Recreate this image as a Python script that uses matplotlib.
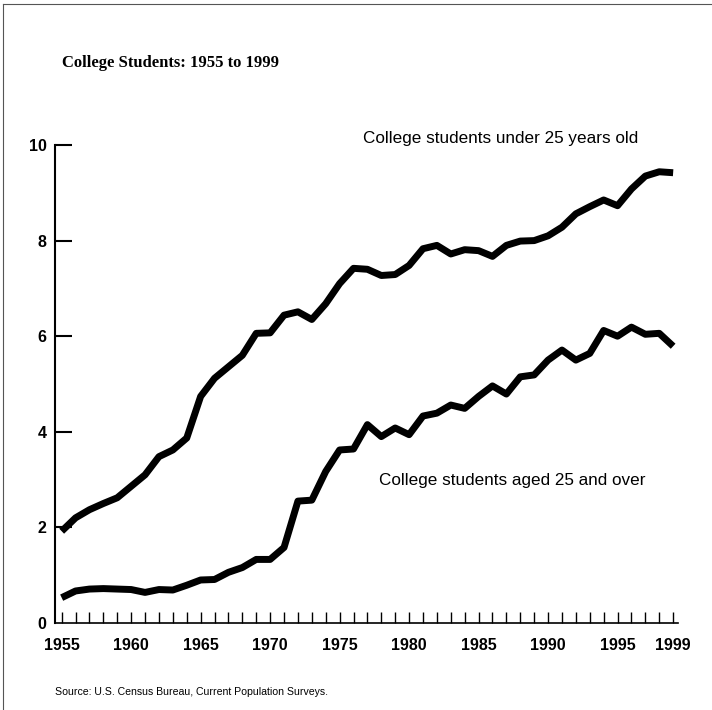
import matplotlib
matplotlib.use("Agg")
import matplotlib.pyplot as plt
from matplotlib.lines import Line2D

years = list(range(1955, 2000))
under_25 = [1.92, 2.20, 2.37, 2.50, 2.62, 2.86, 3.10, 3.48, 3.62, 3.87,
            4.74, 5.12, 5.36, 5.60, 6.06, 6.07, 6.44, 6.51, 6.35, 6.68,
            7.10, 7.42, 7.40, 7.27, 7.29, 7.48, 7.83, 7.90, 7.72, 7.81,
            7.79, 7.67, 7.90, 7.99, 8.00, 8.10, 8.28, 8.56, 8.71, 8.85,
            8.73, 9.08, 9.35, 9.44, 9.42]
aged_25_over = [0.53, 0.67, 0.71, 0.72, 0.71, 0.70, 0.64, 0.70, 0.69, 0.79,
                0.90, 0.91, 1.06, 1.16, 1.33, 1.33, 1.58, 2.55, 2.57, 3.17,
                3.62, 3.64, 4.15, 3.90, 4.08, 3.94, 4.33, 4.39, 4.56, 4.49,
                4.74, 4.96, 4.79, 5.15, 5.19, 5.50, 5.71, 5.50, 5.64, 6.12,
                6.00, 6.19, 6.04, 6.06, 5.79]
labeled_years = [1955, 1960, 1965, 1970, 1975, 1980, 1985, 1990, 1995, 1999]
y_ticks = [2, 4, 6, 8, 10]

W, H = 712, 710
fig = plt.figure(figsize=(W / 100, H / 100), dpi=100)
fig.patch.set_facecolor("white")

sans = ["Liberation Sans", "DejaVu Sans"]
serif = ["Liberation Serif", "DejaVu Serif"]

ax = fig.add_axes([55 / W, 1 - 623 / H, (678 - 55) / W, (623 - 145) / H])
ax.plot(years, under_25, color="black", lw=5, solid_joinstyle="round",
        solid_capstyle="butt")
ax.plot(years, aged_25_over, color="black", lw=5, solid_joinstyle="round",
        solid_capstyle="butt")

ax.set_xlim(1954.52, 1999.35)
ax.set_ylim(0, 10)
for s in ["top", "right"]:
    ax.spines[s].set_visible(False)
ax.spines["left"].set_linewidth(1.5)
ax.spines["bottom"].set_linewidth(1.2)

ax.set_xticks(years)
ax.set_xticklabels([str(y) if y in labeled_years else "" for y in years],
                   fontfamily=sans, fontsize=11.5, fontweight="bold")
ax.tick_params(axis="x", direction="in", length=8, width=1.0, pad=11,
               colors="black")
ax.set_yticks([0] + y_ticks)
ax.set_yticklabels(["0"] + [str(v) for v in y_ticks], fontfamily=sans,
                   fontsize=11.5, fontweight="bold")
ax.tick_params(axis="y", direction="in", length=12, width=1.5, pad=6)
ax.yaxis.get_major_ticks()[0].tick1line.set_visible(False)

fig.text(62 / W, 1 - 63 / H, "College Students: 1955 to 1999",
         fontfamily=serif, fontweight="bold", fontsize=12, va="center",
         ha="left")
fig.text(363 / W, 1 - 139 / H, "College students under 25 years old",
         fontfamily=sans, fontsize=12.3, va="center", ha="left")
fig.text(379 / W, 1 - 481 / H, "College students aged 25 and over",
         fontfamily=sans, fontsize=12.3, va="center", ha="left")
fig.text(55 / W, 1 - 692 / H,
         "Source: U.S. Census Bureau, Current Population Surveys.",
         fontfamily=sans, fontsize=7.6, va="center", ha="left")

# page border
fig.add_artist(Line2D([3 / W, 3 / W], [0, 1 - 4 / H], color="#555555",
                      lw=0.8, transform=fig.transFigure))
fig.add_artist(Line2D([3 / W, 1], [1 - 4 / H, 1 - 4 / H], color="#555555",
                      lw=0.8, transform=fig.transFigure))

fig.savefig("out.png", dpi=100)
